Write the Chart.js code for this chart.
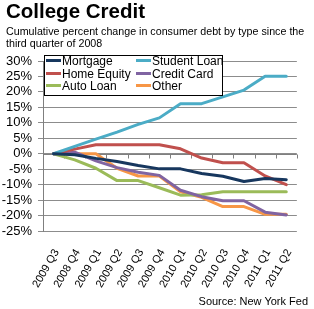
<!DOCTYPE html>
<html>
<head>
<meta charset="utf-8">
<script src="https://cdn.jsdelivr.net/npm/chart.js@4/dist/chart.umd.min.js"></script>
<style>
  body { margin: 0; background: #fff; overflow: hidden; font-family: "Liberation Sans", Arial, sans-serif; }
  #wrap { position: relative; width: 314px; height: 309px; }
  #c { position: absolute; left: 0; top: 0; }
  .txt { position: absolute; white-space: nowrap; color: #000; }
  #title { left: 6px; top: 1px; font-size: 20.5px; line-height: 20.5px; font-weight: bold; }
  #sub { left: 6px; top: 25px; font-size: 10.7px; line-height: 12.3px; }
  #source { right: 6px; top: 296px; font-size: 11px; line-height: 11px; }
  #legend { position: absolute; left: 44px; top: 55px; width: 177px; height: 39px; background: #fff; border: 1px solid #000; }
  .item { position: absolute; font-size: 12px; line-height: 12.5px; white-space: nowrap; }
  .mark { display: inline-block; width: 15px; height: 3px; vertical-align: middle; margin-right: 1px; position: relative; top: -1px; }
</style>
</head>
<body>
<div id="wrap">
  <canvas id="c" width="314" height="309"></canvas>
  <div class="txt" id="title">College Credit</div>
  <div class="txt" id="sub">Cumulative percent change in consumer debt by type since the<br>third quarter of 2008</div>
  <div id="legend"></div>
  <div class="txt" id="source">Source: New York Fed</div>
</div>
<script>
// quarters (first label really reads "2009 Q3" in the original)
const quarters = ['2009 Q3', '2008 Q4', '2009 Q1', '2009 Q2', '2009 Q3', '2009 Q4',
                  '2010 Q1', '2010 Q2', '2010 Q3', '2010 Q4', '2011 Q1', '2011 Q2'];

// cumulative % change
const mortgage    = [0, -0.3, -1.5, -2.5, -3.8, -4.9, -4.9, -6.4, -7.3, -9.0, -8.0, -8.4];
const studentLoan = [0, 2.4, 4.7, 7.0, 9.5, 11.6, 16.2, 16.2, 18.4, 20.6, 25.1, 25.1];
const homeEquity  = [0, 1.5, 2.9, 2.9, 2.9, 2.9, 1.6, -1.4, -2.9, -2.9, -7.2, -10.0];
const creditCard  = [0, 0.5, -2.3, -4.5, -6.0, -7.0, -11.8, -13.9, -15.2, -15.2, -18.9, -19.8];
const autoLoan    = [0, -2.0, -4.7, -8.7, -8.7, -11.0, -13.4, -13.3, -12.3, -12.3, -12.3, -12.3];
const other       = [0, 0, 0, -4.7, -7.2, -7.2, -12.3, -14.1, -17.1, -17.1, -19.6, -19.6];

const seriesNames  = ['Mortgage', 'Student Loan', 'Home Equity', 'Credit Card', 'Auto Loan', 'Other'];
const seriesData   = [mortgage, studentLoan, homeEquity, creditCard, autoLoan, other];
const seriesColors = ['#17375E', '#4BACC6', '#C0504D', '#8064A2', '#9BBB59', '#F79646'];

// y tick values (percent)
const yTicks = [-25, -20, -15, -10, -5, 0, 5, 10, 15, 20, 25, 30];

// legend, 2 columns x 3 rows
const legend = document.getElementById('legend');
const colX = [1, 91];
const rowY = [-1, 11.5, 24];
seriesNames.forEach(function(name, i) {
    const el = document.createElement('div');
    el.className = 'item';
    el.style.left = colX[i % 2] + 'px';
    el.style.top = rowY[Math.floor(i / 2)] + 'px';
    el.innerHTML = '<span class="mark" style="background:' + seriesColors[i] + '"></span>' + name;
    legend.appendChild(el);
});

// x axis sits on 0%, with small tick marks between categories
const zeroAxis = {
    id: 'zeroAxis',
    beforeDatasetsDraw: function(chart) {
        const ctx = chart.ctx;
        const y = chart.scales.y;
        const area = chart.chartArea;
        const y0 = Math.round(y.getPixelForValue(0)) + 0.5;
        const band = (area.right - area.left) / quarters.length;
        ctx.save();
        ctx.strokeStyle = '#7f7f7f';
        ctx.lineWidth = 1;
        ctx.beginPath();
        ctx.moveTo(area.left, y0);
        ctx.lineTo(area.right, y0);
        for (let k = 0; k <= quarters.length; k++) {
            const px = Math.round(area.left + k * band) + 0.5;
            ctx.moveTo(px, y0);
            ctx.lineTo(px, y0 + 4);
        }
        ctx.stroke();
        ctx.restore();
    }
};

new Chart(document.getElementById('c').getContext('2d'), {
    type: 'line',
    data: {
        labels: quarters,
        datasets: seriesData.map(function(d, i) {
            return {
                label: seriesNames[i],
                data: d,
                borderColor: seriesColors[i],
                backgroundColor: seriesColors[i],
                borderWidth: 3,
                pointRadius: 0,
                tension: 0,
                borderJoinStyle: 'round',
                borderCapStyle: 'round'
            };
        })
    },
    options: {
        responsive: false,
        animation: false,
        devicePixelRatio: 1,
        layout: { padding: { top: 61, right: 7, left: 0, bottom: 0 } },
        plugins: { legend: { display: false }, tooltip: { enabled: false } },
        scales: {
            x: {
                offset: true,
                grid: { display: false, drawTicks: false },
                border: { display: false },
                ticks: {
                    autoSkip: false, minRotation: 60, maxRotation: 60, padding: 16, labelOffset: 3,
                    color: '#000', font: { family: 'Liberation Sans', size: 11 }
                },
                afterFit: function(s) { s.height = 78; }
            },
            y: {
                min: yTicks[0], max: yTicks[yTicks.length - 1],
                grid: { color: '#8c8c8c', tickLength: 5 },
                border: { display: true, color: '#7f7f7f' },
                ticks: {
                    autoSkip: false, padding: 6, color: '#000',
                    font: { family: 'Liberation Sans', size: 13 },
                    callback: function(v) { return v + '%'; }
                },
                afterBuildTicks: function(s) {
                    s.ticks = yTicks.map(function(v) { return { value: v }; });
                },
                afterFit: function(s) { s.width = 43; }
            }
        }
    },
    plugins: [zeroAxis]
});
</script>
</body>
</html>
